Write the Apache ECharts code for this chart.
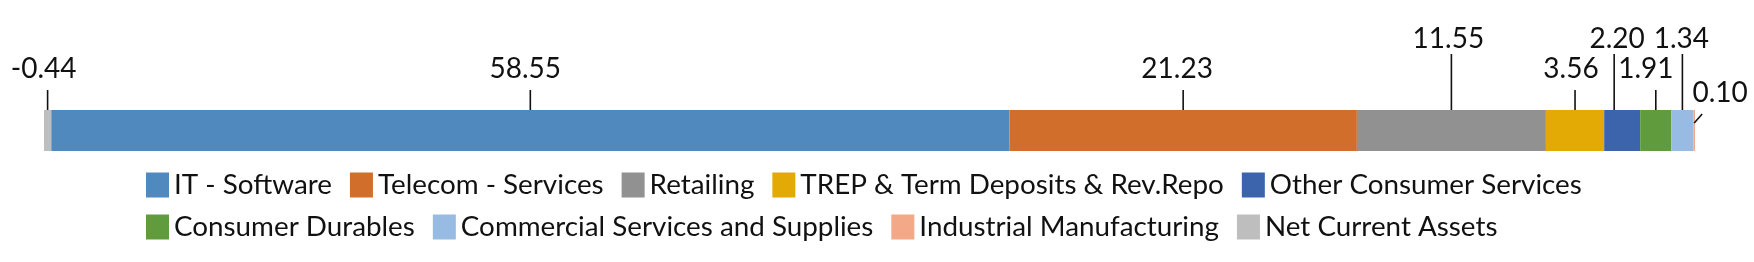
<!DOCTYPE html>
<html><head><meta charset="utf-8">
<script src="https://cdn.jsdelivr.net/npm/echarts@6/dist/echarts.min.js"></script>
<style>html,body{margin:0;padding:0;background:#fff}#c{width:1754px;height:262px}</style>
</head><body><div id="c"></div>
<script>
// ---- data ----
const categories = ['IT - Software','Telecom - Services','Retailing','TREP & Term Deposits & Rev.Repo','Other Consumer Services','Consumer Durables','Commercial Services and Supplies','Industrial Manufacturing','Net Current Assets'];
const values = [58.55, 21.23, 11.55, 3.56, 2.20, 1.91, 1.34, 0.10, -0.44];
const valueLabels = ['58.55','21.23','11.55','3.56','2.20','1.91','1.34','0.10','-0.44'];
const legendRow1 = categories.slice(0, 5);
const legendRow2 = categories.slice(5);

// ---- styles / layout (not data) ----
const colors = ['#4f89bd','#d16e2c','#919191','#e3a905','#3b64ad','#609b3d','#98bbe3','#f3a887','#bebebe'];
const labelTier = ['low','low','high','low','high','low','high','side','low'];
const labelShift = [-5,-6,-3,-4,-5,-10,-1,0,-4];
const leaderShift = [0,0,0,0,-8,0,0,0,0];
const FONT = 'Lato, "Noto Sans", sans-serif';

// stacked centres, derived from the values through stacking rules
let posAcc = 0, negAcc = 0;
const centers = values.map(v => {
  if (v >= 0) { const c = posAcc + v / 2; posAcc += v; return c; }
  const c = negAcc + v / 2; negAcc += v; return c;
});

const barSeries = categories.map((name, i) => ({
  name, type: 'bar', stack: 'total',
  data: [values[i]],
  barCategoryGap: '0%',
  itemStyle: { color: colors[i] },
  emphasis: { disabled: true },
  silent: true
}));

const labelSeries = {
  name: '__labels', type: 'custom', z: 10, silent: true,
  coordinateSystem: 'cartesian2d',
  encode: { x: 0, y: 1 },
  data: centers.map((c, i) => [c, 0, i]),
  renderItem(params, api) {
    const i = api.value(2);
    const p = api.coord([api.value(0), api.value(1)]);
    const band = api.size([0, 1])[1];
    const top = p[1] - band / 2;
    const x = p[0];
    const tier = labelTier[i];
    const lineStyle = { stroke: '#111', lineWidth: 1.6 };
    const txt = (tx, ty) => ({
      type: 'text', x: tx, y: ty,
      style: { text: valueLabels[i], fill: '#111', font: '28px ' + FONT, align: 'center', verticalAlign: 'middle' }
    });
    if (tier === 'side') {
      return { type: 'group', children: [
        { type: 'line', shape: { x1: x, y1: top + 13, x2: x + 8, y2: top + 4 }, style: lineStyle },
        txt(x + 26, top - 17.5)
      ]};
    }
    const lineTop = tier === 'high' ? top - 56 : top - 20;
    const textY = tier === 'high' ? top - 71 : top - 41;
    const lx = x + leaderShift[i];
    return { type: 'group', children: [
      { type: 'line', shape: { x1: lx, y1: lineTop, x2: lx, y2: top }, style: lineStyle },
      txt(x + labelShift[i], textY)
    ]};
  }
};

const legendBase = {
  left: 146, padding: 0, icon: 'rect', itemWidth: 23, itemHeight: 25, itemGap: 18,
  selectedMode: false,
  textStyle: { fontSize: 27.8, fontFamily: FONT, color: '#111' }
};

const chart = echarts.init(document.getElementById('c'), null, { renderer: 'canvas' });
chart.setOption({
  animation: false,
  backgroundColor: '#fff',
  grid: { left: 44, right: 59, top: 110, height: 41 },
  xAxis: { type: 'value', min: v => v.min, max: v => v.max, show: false },
  yAxis: { type: 'category', data: ['Sector'], show: false },
  legend: [
    Object.assign({}, legendBase, { top: 171, data: legendRow1 }),
    Object.assign({}, legendBase, { top: 213, data: legendRow2 })
  ],
  tooltip: { show: false },
  series: barSeries.concat([labelSeries])
});
</script>
</body></html>
